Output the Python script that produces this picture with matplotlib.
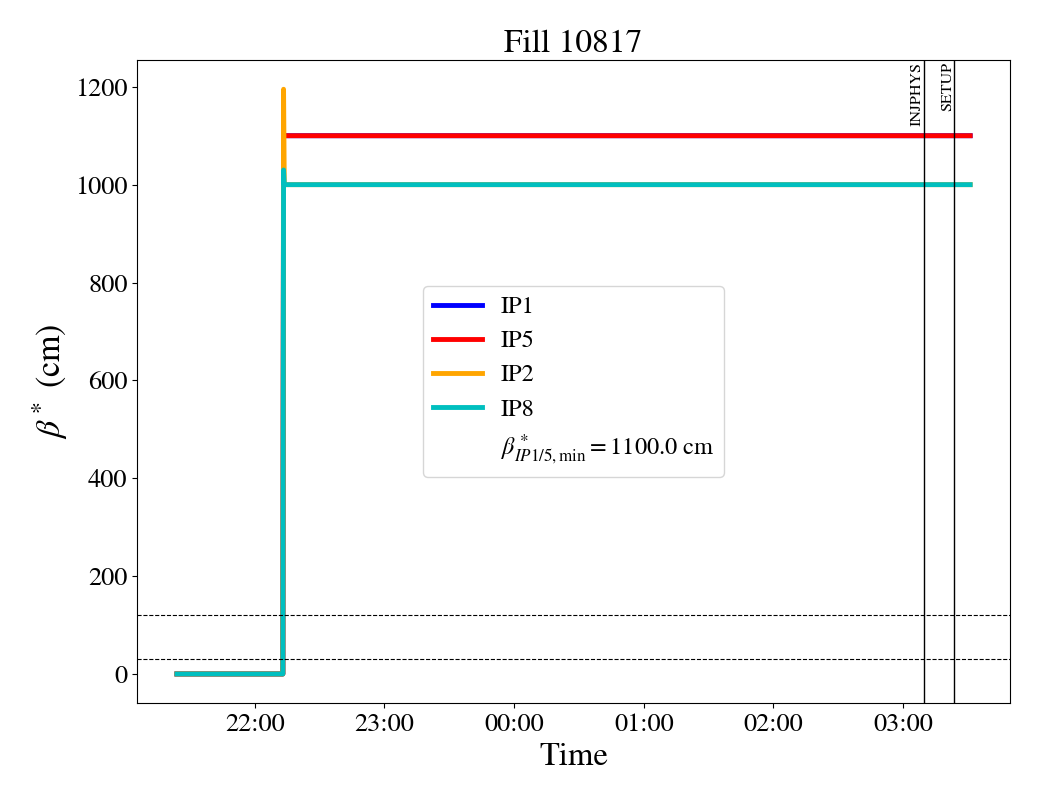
import pandas as pd
import matplotlib
matplotlib.use("Agg")
import matplotlib.pyplot as plt
import matplotlib.dates as mdates

plt.rcParams['font.family'] = ['STIXGeneral', 'DejaVu Serif']
plt.rcParams['mathtext.fontset'] = 'stix'

# beta* per IP for fill 10817 (cm)
times = pd.to_datetime(["2025-06-20 21:24:00", "2025-06-20 22:13:00",
                        "2025-06-20 22:13:20", "2025-06-20 22:13:40",
                        "2025-06-21 03:31:00"])
ip1 = [0, 0, 1100, 1100, 1100]
ip5 = [0, 0, 1100, 1100, 1100]
ip2 = [0, 0, 1195, 1000, 1000]
ip8 = [0, 0, 1030, 1000, 1000]

# beam modes
mode_names = ["INJPHYS", "SETUP"]
mode_times = pd.to_datetime(["2025-06-21 03:09:30", "2025-06-21 03:23:30"])

hlines = [30, 120]
beta_min = 1100.0

fig, ax = plt.subplots(figsize=(10.4, 8), dpi=100)
fig.subplots_adjust(left=0.132, right=0.971, top=0.925, bottom=0.121)

ax.plot(times, ip1, color='blue', lw=3.5, label='IP1')
ax.plot(times, ip5, color='red', lw=3.5, label='IP5')
ax.plot(times, ip2, color='orange', lw=3.5, label='IP2')
ax.plot(times, ip8, color='c', lw=3.5, label='IP8')
ax.plot([], [], ' ', label=r'$\beta^*_{IP1/5,\mathrm{min}} = %.1f$ cm' % beta_min)

for h in hlines:
    ax.axhline(h, color='black', ls='--', lw=0.8)

for name, t in zip(mode_names, mode_times):
    ax.axvline(t, color='black', lw=1)
    ax.text(t, 0.997, name, rotation=90, ha='right', va='top', fontsize=11.5,
            transform=ax.get_xaxis_transform())

ax.xaxis.set_major_locator(mdates.HourLocator())
ax.xaxis.set_major_formatter(mdates.DateFormatter('%H:%M'))
ax.tick_params(labelsize=19)

ax.set_title('Fill 10817', fontsize=24)
ax.set_xlabel('Time', fontsize=23.5)
ax.set_ylabel(r'$\beta^*$ (cm)', fontsize=24.5)
ax.legend(loc='center', fontsize=17.5)

fig.savefig('out.png')
